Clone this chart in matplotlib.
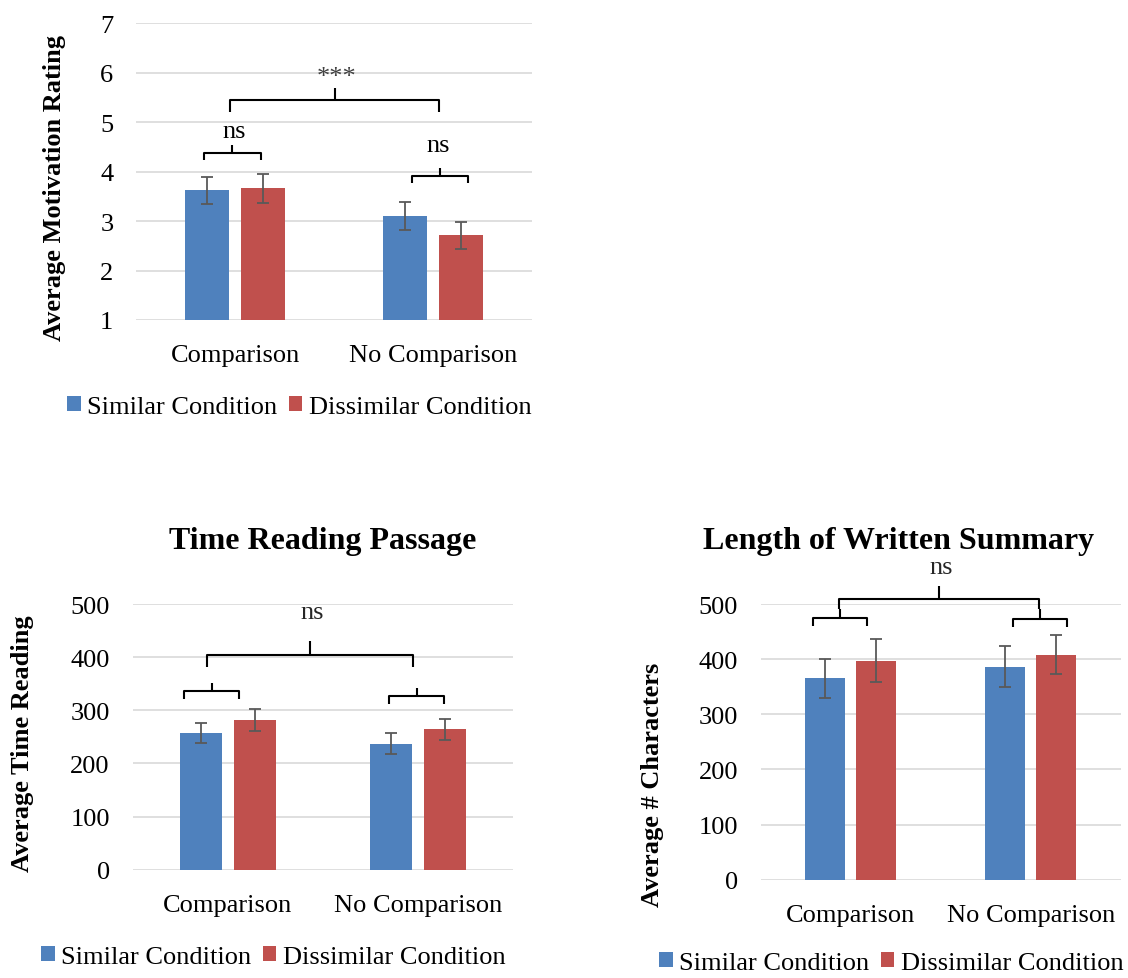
import matplotlib
matplotlib.use("Agg")
import matplotlib.pyplot as plt
from matplotlib.patches import Patch

# ---- data -------------------------------------------------------------
categories = ["Comparison", "No Comparison"]
series_names = ["Similar Condition", "Dissimilar Condition"]

motivation_similar = [3.62, 3.10]
motivation_dissimilar = [3.66, 2.71]
motivation_similar_err = [0.28, 0.285]
motivation_dissimilar_err = [0.30, 0.28]

reading_similar = [258, 237]
reading_dissimilar = [282, 264]
reading_similar_err = [19, 19.5]
reading_dissimilar_err = [21, 19.5]

summary_similar = [365, 386]
summary_dissimilar = [397, 408]
summary_similar_err = [36, 37]
summary_dissimilar_err = [39, 35]

# ---- style ------------------------------------------------------------
BLUE = "#4F81BD"
RED = "#C0504D"
GRID = "#D9D9D9"
ERR = "#595959"
plt.rcParams["font.family"] = ["Liberation Serif", "DejaVu Serif"]

W, H = 1128, 979
fig = plt.figure(figsize=(W / 100, H / 100), dpi=100)


def px_rect(left, right, top, bottom):
    return [left / W, 1 - bottom / H, (right - left) / W, (bottom - top) / H]


def fx(x):
    return x / W


def fy(y):
    return 1 - y / H


def bar_panel(rect, sim, dis, sim_err, dis_err, ylim, yticks):
    ax = fig.add_axes(rect)
    x = list(range(len(categories)))
    off, width = 0.142, 0.222
    ekw = dict(ecolor=ERR, elinewidth=1.3, capsize=4.3, capthick=1.3)
    ax.bar([i - off for i in x], sim, width, color=BLUE, yerr=sim_err,
           error_kw=ekw, zorder=3)
    ax.bar([i + off for i in x], dis, width, color=RED, yerr=dis_err,
           error_kw=ekw, zorder=3)
    ax.set_xlim(-0.5, len(categories) - 0.5)
    ax.set_ylim(*ylim)
    ax.set_yticks(yticks)
    ax.set_xticks(x, categories)
    ax.yaxis.grid(True, color=GRID, linewidth=1.2, zorder=0)
    ax.set_axisbelow(True)
    for s in ax.spines.values():
        s.set_visible(False)
    ax.tick_params(axis="both", length=0, labelsize=19, colors="black")
    ax.tick_params(axis="y", pad=16.5)
    ax.tick_params(axis="x", pad=17.5)
    return ax


def bracket(ax, x0, x1, y_leg, y_bar, y_tip):
    xc = (x0 + x1) / 2
    kw = dict(color="black", linewidth=1.5, clip_on=False, zorder=5,
              solid_joinstyle="round", solid_capstyle="butt")
    ax.plot([x0, x0, x1, x1], [y_leg, y_bar, y_bar, y_leg], **kw)
    ax.plot([xc, xc], [y_bar, y_tip], **kw)


def legend_at(cx, cy):
    handles = [Patch(facecolor=BLUE), Patch(facecolor=RED)]
    fig.legend(handles, series_names, ncol=2, loc="center",
               bbox_to_anchor=(fx(cx), fy(cy)), frameon=False, fontsize=19,
               handlelength=0.5, handleheight=0.5, handletextpad=0.25,
               columnspacing=0.45, borderpad=0, borderaxespad=0)


# ---- Average motivation rating -----------------------------------------
ax1 = bar_panel(px_rect(136.3, 532.3, 24.3, 321),
                motivation_similar, motivation_dissimilar,
                motivation_similar_err, motivation_dissimilar_err,
                (1, 7), range(1, 8))
bracket(ax1, -0.157, 0.128, 4.24, 4.38, 4.54)
bracket(ax1, 0.891, 1.174, 3.77, 3.92, 4.07)
bracket(ax1, -0.027, 1.03, 5.2, 5.455, 5.685)
ax1.text(-0.005, 4.695, "ns", ha="center", va="baseline", fontsize=19)
ax1.text(1.025, 4.42, "ns", ha="center", va="baseline", fontsize=19)
ax1.text(0.512, 5.79, "***", ha="center", va="baseline", fontsize=19,
         color="#404040")
fig.text(fx(55), fy(188), "Average Motivation Rating", rotation=90,
         ha="center", va="center", fontsize=19, fontweight="bold")
legend_at(299.5, 408)

# ---- Time reading passage ----------------------------------------------
ax2 = bar_panel(px_rect(132.7, 512.7, 605, 870.7),
                reading_similar, reading_dissimilar,
                reading_similar_err, reading_dissimilar_err,
                (0, 500), range(0, 501, 100))
bracket(ax2, -0.228, 0.061, 321, 337, 351)
bracket(ax2, 0.851, 1.138, 312, 327.5, 342)
bracket(ax2, -0.111, 0.977, 381, 404, 430)
ax2.text(0.445, 473.7, "ns", ha="center", va="baseline", fontsize=19,
         color="#262626")
fig.text(fx(323), fy(541.7), "Time Reading Passage", ha="center",
         va="center", fontsize=23, fontweight="bold")
fig.text(fx(23), fy(744), "Average Time Reading", rotation=90,
         ha="center", va="center", fontsize=19, fontweight="bold")
legend_at(273.6, 958)

# ---- Length of written summary -----------------------------------------
ax3 = bar_panel(px_rect(760.8, 1120.8, 605, 880.7),
                summary_similar, summary_dissimilar,
                summary_similar_err, summary_dissimilar_err,
                (0, 500), range(0, 501, 100))
bracket(ax3, -0.212, 0.09, 461, 475, 491)
bracket(ax3, 0.899, 1.199, 458, 473, 491)
bracket(ax3, -0.066, 1.046, 491, 509, 533)
ax3.text(0.501, 557, "ns", ha="center", va="baseline", fontsize=19,
         color="#262626")
fig.text(fx(898.5), fy(541.7), "Length of Written Summary", ha="center",
         va="center", fontsize=23, fontweight="bold")
fig.text(fx(652), fy(785), "Average # Characters", rotation=90,
         ha="center", va="center", fontsize=19, fontweight="bold")
legend_at(891.5, 964)

fig.savefig("out.png", dpi=100, facecolor="white")
